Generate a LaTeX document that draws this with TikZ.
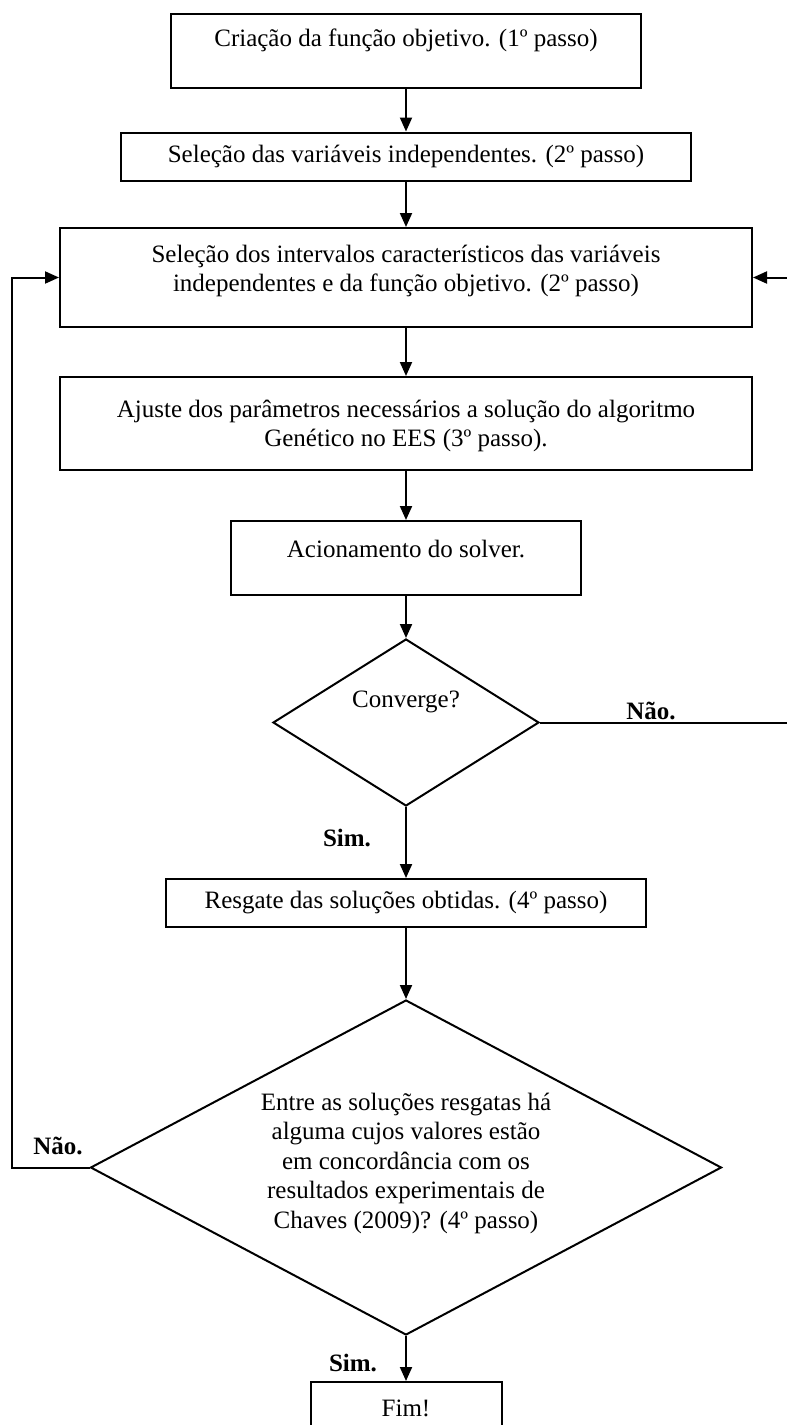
\documentclass[tikz,border=0pt]{standalone}
\usepackage{fontspec}
\setmainfont{Liberation Serif}
\usetikzlibrary{shapes.geometric,arrows.meta,calc}
\begin{document}
\begin{tikzpicture}[x=1pt,y=-1pt,
  box/.style={draw, line width=2pt, inner sep=0pt, rectangle},
  dia/.style={draw, line width=2pt, inner sep=0pt, diamond},
  txt/.style={font=\fontsize{25}{29.5}\selectfont, align=center, inner sep=0pt},
  lbl/.style={font=\fontsize{25}{29}\selectfont\bfseries, inner sep=0pt},
  arr/.style={line width=2pt, -{Triangle[length=14pt,width=12pt]}},
  ln/.style={line width=2pt}]
\useasboundingbox (0,0) rectangle (787,1425);
% boxes
\node[box, minimum width=470, minimum height=74] (b1) at (406,51) {};
\node[txt] (t1) at (406,40) {Criação da função objetivo. (1º passo)};
\node[box, minimum width=570, minimum height=48] (b2) at (406,156.5) {};
\node[txt] (t2) at (406,156) {Seleção das variáveis independentes. (2º passo)};
\node[box, minimum width=692, minimum height=99] (b3) at (406,277.5) {};
\node[txt] (t3) at (406,271) {Seleção dos intervalos característicos das variáveis\\independentes e da função objetivo. (2º passo)};
\node[box, minimum width=692, minimum height=93] (b4) at (406,423.5) {};
\node[txt] (t4) at (406,426) {Ajuste dos parâmetros necessários a solução do algoritmo\\Genético no EES (3º passo).};
\node[box, minimum width=350, minimum height=74] (b5) at (406,558) {};
\node[txt] (t5) at (406,549) {Acionamento do solver.};
\node[dia, minimum width=266, minimum height=167] (d1) at (406,722.5) {};
\node[txt] (t6) at (406,702) {Converge?};
\node[box, minimum width=480, minimum height=48] (b6) at (406,903) {};
\node[txt] (t7) at (406,903) {Resgate das soluções obtidas. (4º passo)};
\node[dia, minimum width=631, minimum height=335] (d2) at (406,1167.5) {};
\node[txt] (t8) at (406,1163) {Entre as soluções resgatas há\\alguma cujos valores estão\\em concordância com os\\resultados experimentais de\\Chaves (2009)? (4º passo)};
\node[box, minimum width=191, minimum height=60] (b7) at (406,1412) {};
\node[txt] (t9) at (406,1408) {Fim!};
% labels
\node[lbl] (n1) at (651,711) {Não.};
\node[lbl] (n2) at (58,1146) {Não.};
\node[lbl] (s1) at (347,838) {Sim.};
\node[lbl] (s2) at (353,1363) {Sim.};
% connectors
\draw[arr] (b1.south) -- (b2.north);
\draw[arr] (b2.south) -- (b3.north);
\draw[arr] (b3.south) -- (b4.north);
\draw[arr] (b4.south) -- (b5.north);
\draw[arr] (b5.south) -- (d1.north);
\draw[arr] (d1.south) -- (b6.north);
\draw[arr] (b6.south) -- (d2.north);
\draw[arr] (d2.south) -- (b7.north);
\coordinate (lx) at (12,1167.5);
\draw[arr] (d2.west) -- (lx) |- (b3.west);
\coordinate (rx) at (790,722.5);
\draw[arr] (d1.east) -- (rx) |- (b3.east);
\end{tikzpicture}
\end{document}
